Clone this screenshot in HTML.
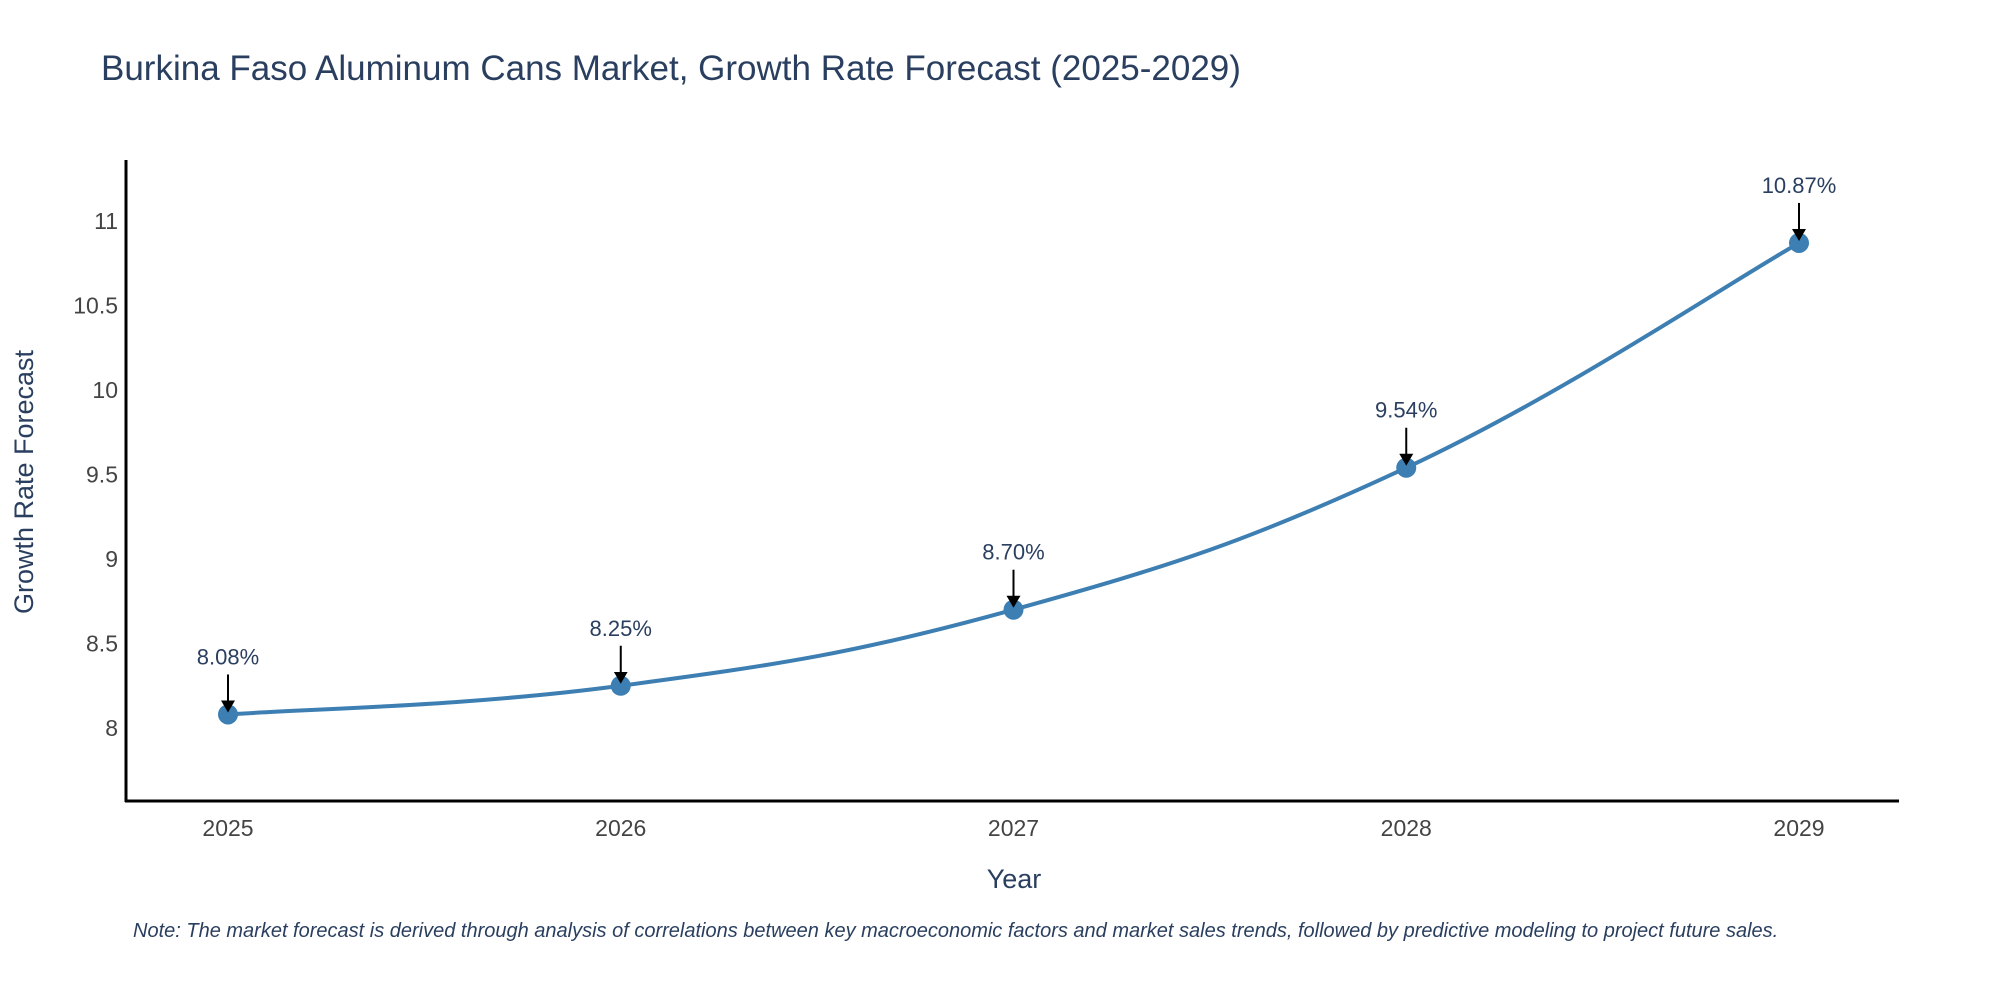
<!DOCTYPE html>
<html><head><meta charset="utf-8">
<style>
html,body{margin:0;padding:0;background:#fff;}
svg{display:block;font-family:"Liberation Sans",sans-serif;}
</style></head>
<body>
<svg id="chart" width="2000" height="1000" viewBox="0 0 2000 1000">
<text x="101" y="80" font-size="35" fill="#2a3f5f">Burkina Faso Aluminum Cans Market, Growth Rate Forecast (2025-2029)</text>
<g id="yticks"></g>
<g id="xticks"></g>
<line x1="126" y1="160" x2="126" y2="802" stroke="#000" stroke-width="3"/>
<line x1="125" y1="801" x2="1899" y2="801" stroke="#000" stroke-width="3"/>
<path id="line" fill="none" stroke="#3d7fb2" stroke-width="4"/>
<g id="points"></g>
<g id="annots"></g>
<text x="0" y="0" transform="translate(33,482) rotate(-90)" text-anchor="middle" font-size="27" fill="#2a3f5f">Growth Rate Forecast</text>
<text x="1014" y="888" text-anchor="middle" font-size="27" fill="#2a3f5f">Year</text>
<text x="133" y="937" font-size="20" font-style="italic" fill="#2a3f5f">Note: The market forecast is derived through analysis of correlations between key macroeconomic factors and market sales trends, followed by predictive modeling to project future sales.</text>
<defs><marker id="ah" markerWidth="14" markerHeight="14" refX="10" refY="7" orient="auto" markerUnits="userSpaceOnUse"><path d="M0,0 L12,7 L0,14 z" fill="#000"/></marker></defs>
</svg>
<script>
const years = ["2025","2026","2027","2028","2029"];
const values = [8.08, 8.25, 8.70, 9.54, 10.87];
const labels = ["8.08%","8.25%","8.70%","9.54%","10.87%"];
const yTickValues = [8, 8.5, 9, 9.5, 10, 10.5, 11];
const yTickLabels = ["8","8.5","9","9.5","10","10.5","11"];
const NS="http://www.w3.org/2000/svg";
function xS(i){return 228 + i*392.75;}
function yS(v){return 728 - (v-8)*169;}
function mk(t,a,p){const e=document.createElementNS(NS,t);for(const k in a)e.setAttribute(k,a[k]);p.appendChild(e);return e;}
const yt=document.getElementById('yticks');
yTickValues.forEach((v,i)=>{
  const t=mk('text',{x:118,y:yS(v)+8,'text-anchor':'end','font-size':23,fill:'#444'},yt);
  
  
  t.textContent=yTickLabels[i];
});
const xt=document.getElementById('xticks');
years.forEach((y,i)=>{
  const t=mk('text',{x:xS(i),y:836,'text-anchor':'middle','font-size':23,fill:'#444'},xt);
  
  
  t.textContent=y;
});
const pts=values.map((v,i)=>[xS(i),yS(v)]);
let d='M'+pts[0][0]+','+pts[0][1];
const s=0.2;
for(let i=0;i<pts.length-1;i++){
  const p0=pts[Math.max(i-1,0)],p1=pts[i],p2=pts[i+1],p3=pts[Math.min(i+2,pts.length-1)];
  const c1=[p1[0]+(p2[0]-p0[0])*s,p1[1]+(p2[1]-p0[1])*s];
  const c2=[p2[0]-(p3[0]-p1[0])*s,p2[1]-(p3[1]-p1[1])*s];
  d+=` C${c1[0]},${c1[1]} ${c2[0]},${c2[1]} ${p2[0]},${p2[1]}`;
}
document.getElementById('line').setAttribute('d',d);
const pg=document.getElementById('points'),ag=document.getElementById('annots');
pts.forEach((p,i)=>{
  const c=mk('circle',{cx:p[0],cy:p[1],r:10,fill:'#3d7fb2'},pg);
  
  
  const l=mk('line',{x1:p[0],y1:p[1]-40,x2:p[0],y2:p[1]-4,stroke:'#000','stroke-width':2,'marker-end':'url(#ah)'},ag);
  
  
  const t=mk('text',{x:p[0],y:p[1]-50,'text-anchor':'middle','font-size':22,fill:'#2a3f5f'},ag);
  
  
  t.textContent=labels[i];
});
</script>
</body></html>
